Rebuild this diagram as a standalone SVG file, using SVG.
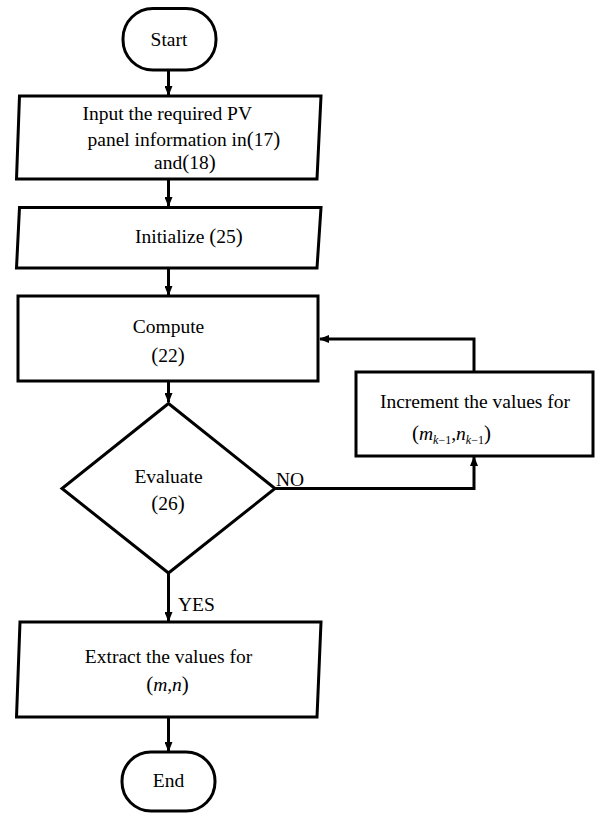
<svg xmlns="http://www.w3.org/2000/svg" width="595" height="814" viewBox="0 0 595 814">
<style>
.shape{fill:#fff;stroke:#000;stroke-width:3;stroke-linejoin:miter}
.conn{fill:none;stroke:#000;stroke-width:3}
text{font-family:"Liberation Serif","Times New Roman",serif;font-size:19.5px;fill:#000}
.c{text-anchor:middle}
.i{font-style:italic}
.sub{font-size:12px}
.p{font-size:21px}
</style>
<defs>
<marker id="arr" markerWidth="10" markerHeight="8" refX="9" refY="4" orient="auto" markerUnits="userSpaceOnUse">
<path d="M0,0 L10,4 L0,8 Z" fill="#000"/>
</marker>
</defs>
<g id="connectors">
<line class="conn" x1="168.5" y1="70" x2="168.5" y2="95" marker-end="url(#arr)"/>
<line class="conn" x1="168.5" y1="179" x2="168.5" y2="206" marker-end="url(#arr)"/>
<line class="conn" x1="168.5" y1="268" x2="168.5" y2="295" marker-end="url(#arr)"/>
<line class="conn" x1="168.5" y1="381" x2="168.5" y2="402" marker-end="url(#arr)"/>
<line class="conn" x1="168.5" y1="573" x2="168.5" y2="621" marker-end="url(#arr)"/>
<line class="conn" x1="168.5" y1="717" x2="168.5" y2="751" marker-end="url(#arr)"/>
<polyline class="conn" points="275,488.5 474,488.5 474,457" marker-end="url(#arr)"/>
<polyline class="conn" points="474,372 474,339 320,339" marker-end="url(#arr)"/>
<text x="276" y="486">NO</text>
<text x="178" y="611">YES</text>
</g>
<g id="start">
<rect class="shape" x="123" y="8.5" width="93" height="61.5" rx="30" ry="30"/>
<text class="c" x="169" y="46">Start</text>
</g>
<g id="input">
<polygon class="shape" points="19.5,96 321,96 317,179 16.5,179"/>
<text x="82.5" y="120">Input the required PV</text>
<text x="87.5" y="146">panel information in<tspan class="p">(</tspan>17<tspan class="p">)</tspan></text>
<text x="154" y="169">and<tspan class="p">(</tspan>18<tspan class="p">)</tspan></text>
</g>
<g id="initialize">
<polygon class="shape" points="19.5,207.5 321,207.5 317,268 16.5,268"/>
<text x="135" y="243">Initialize <tspan class="p">(</tspan>25<tspan class="p">)</tspan></text>
</g>
<g id="compute">
<rect class="shape" x="18" y="296" width="300" height="85"/>
<text class="c" x="168.5" y="333">Compute</text>
<text class="c" x="168" y="362"><tspan class="p">(</tspan>22<tspan class="p">)</tspan></text>
</g>
<g id="evaluate">
<polygon class="shape" points="168.5,403.5 275,488.5 168.5,573 62,488.5"/>
<text class="c" x="168.5" y="483">Evaluate</text>
<text class="c" x="168" y="510"><tspan class="p">(</tspan>26<tspan class="p">)</tspan></text>
</g>
<g id="increment">
<rect class="shape" x="356" y="372" width="237" height="84"/>
<text class="c" x="475" y="408">Increment the values for</text>
<text x="412" y="440"><tspan class="p">(</tspan><tspan class="i">m</tspan><tspan class="sub" dy="4"><tspan class="i">k</tspan>−1</tspan><tspan dy="-4">,</tspan><tspan class="i">n</tspan><tspan class="sub" dy="4"><tspan class="i">k</tspan>−1</tspan><tspan class="p" dy="-4">)</tspan></text>
</g>
<g id="extract">
<polygon class="shape" points="20,622 321,622 317,717 16.5,717"/>
<text class="c" x="168.5" y="663">Extract the values for</text>
<text class="c" x="167.5" y="691"><tspan class="p">(</tspan><tspan class="i">m</tspan>,<tspan class="i">n</tspan><tspan class="p">)</tspan></text>
</g>
<g id="end">
<rect class="shape" x="122" y="752" width="93" height="59" rx="29" ry="29"/>
<text class="c" x="168.5" y="787">End</text>
</g>
</svg>
